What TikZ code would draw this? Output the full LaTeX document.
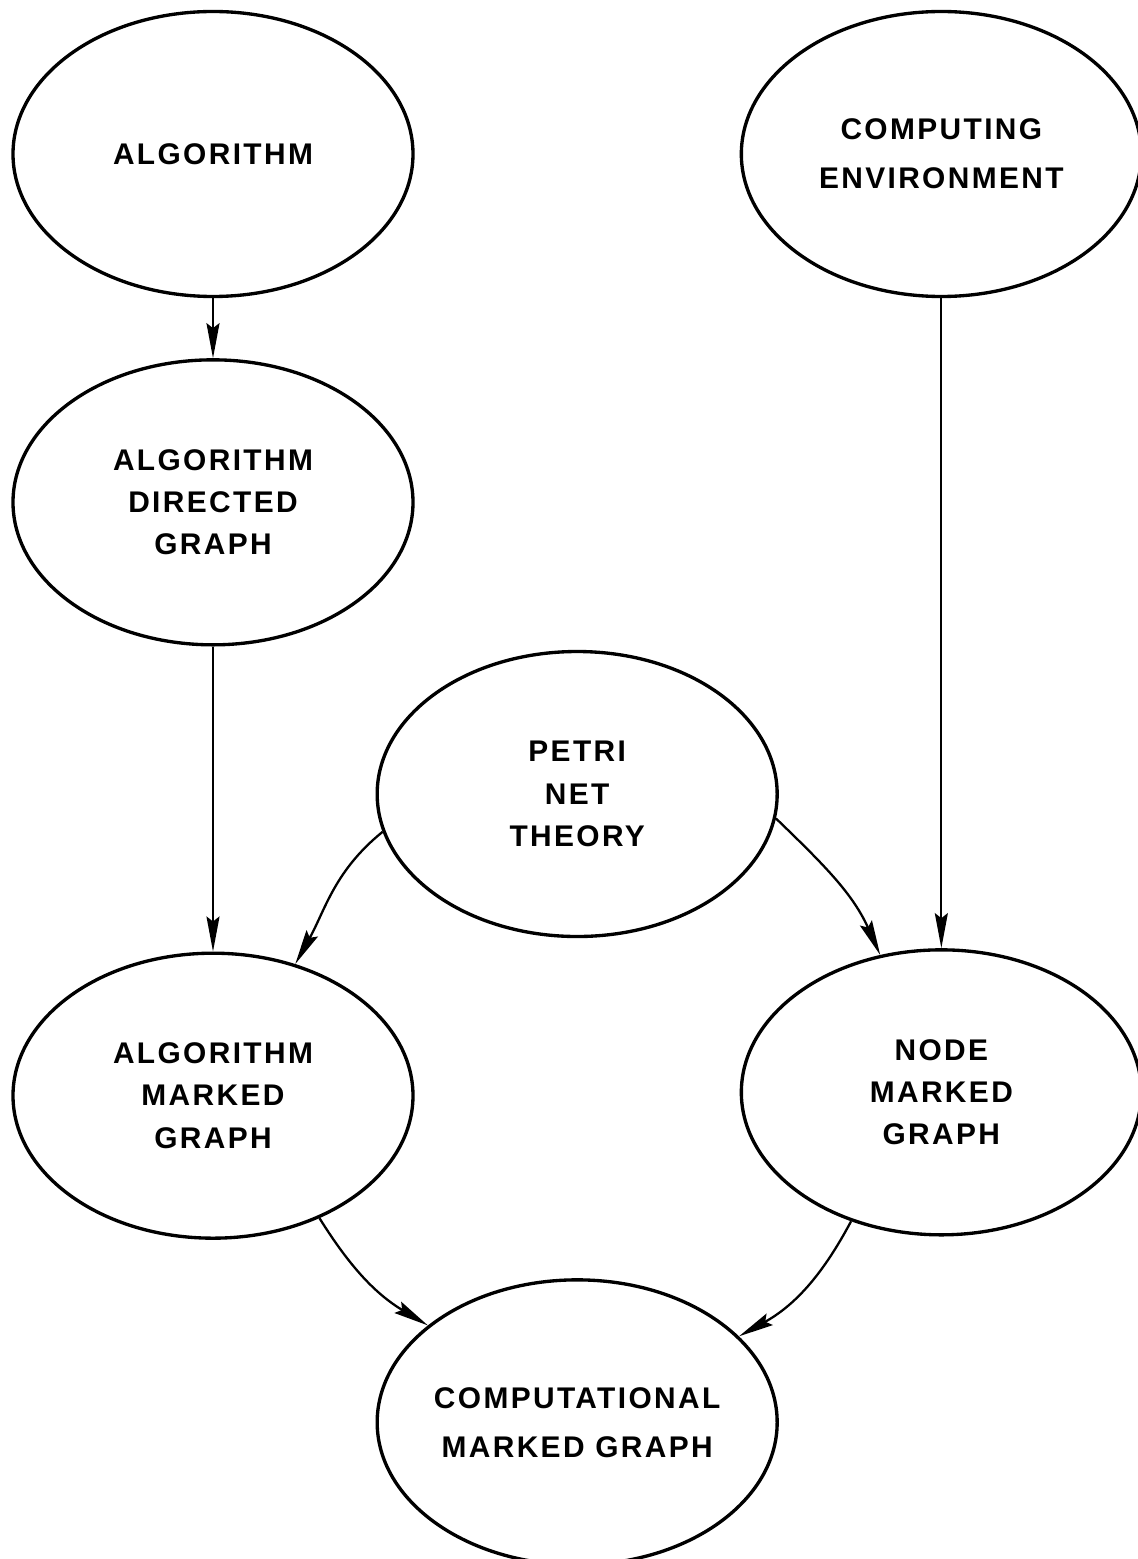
\documentclass[tikz,border=0pt]{standalone}
\usepackage{fontspec}
\newfontfamily\labelfont{Liberation Sans}[LetterSpace=8]
\usetikzlibrary{arrows.meta}
\usetikzlibrary{calc}
\usetikzlibrary{positioning}
\usetikzlibrary{shapes.geometric}
\tikzset{
  part/.style={
    draw,
    ellipse,
    line width=1.9pt,
    minimum width=80mm,
    minimum height=57mm,
    inner xsep=-3mm,
    inner ysep=0pt,
    align=center,
    node font=\labelfont\bfseries\fontsize{17}{24}\selectfont,
  },
  flow/.style={
    draw,
    -{Stealth[length=7mm,width=2.6mm,inset=1mm]},
    line width=1.3pt,
  },
}
\begin{document}
\begin{tikzpicture}
  \useasboundingbox (-4.26,3.08) rectangle (18.5,-28.1);

  \node (algorithm)   [part]                            {ALGORITHM};
  \node (directed)    [part,below=12mm of algorithm]    {ALGORITHM\\DIRECTED\\GRAPH};
  \node (algmarked)   [part,below=61mm of directed]     {ALGORITHM\\MARKED\\GRAPH};
  \node (environment) [part,right=65mm of algorithm]    {COMPUTING\\[4pt]ENVIRONMENT};
  \node (nodemarked)  [part,below=130mm of environment] {NODE\\MARKED\\GRAPH};

  \node (petri) [part] at ($(algmarked)!0.5!(nodemarked)+(0,6)$) {PETRI\\NET\\THEORY};
  \node (computational) [part,anchor=north] at ($(algmarked.south)!0.5!(nodemarked.south)+(0,-0.8)$) {%
    COMPUTATIONAL\\[4pt]
    MARKED GRAPH};

  \path [flow] (algorithm) -- (directed);
  \path [flow] (directed) -- (algmarked);
  \path [flow] (environment) -- (nodemarked);
  \path [flow] (petri.191) to [out=219,in=61] (algmarked.58);
  \path [flow] (petri.-7) to [out=-44,in=114] (nodemarked.114);
  \path [flow] (algmarked.-49) to [out=-58,in=149] (computational.147);
  \path [flow] (nodemarked.-125) to [out=-118,in=29] (computational.28);
\end{tikzpicture}
\end{document}
